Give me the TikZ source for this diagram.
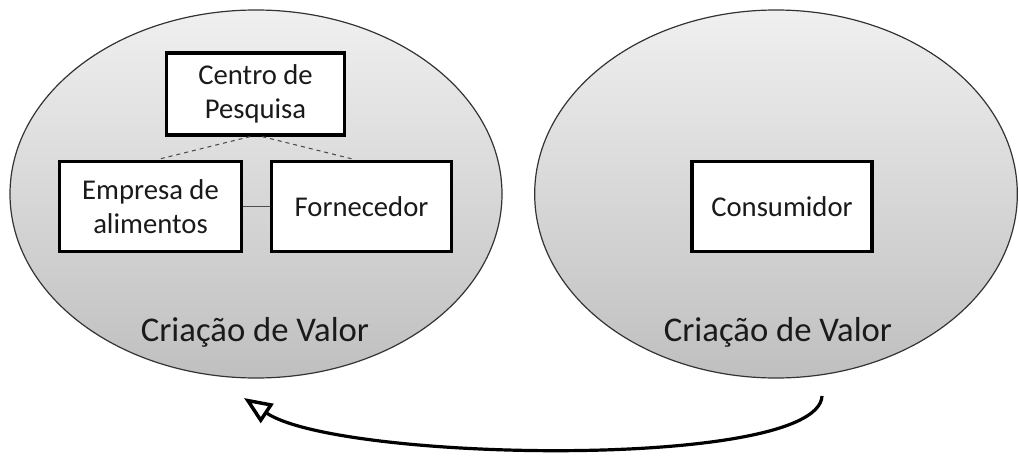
\documentclass[tikz,border=0pt]{standalone}
\usepackage{fontspec}
\setmainfont{Carlito}
\usetikzlibrary{shapes.geometric,arrows.meta,calc}
\definecolor{txt}{HTML}{1A1A1A}
\tikzset{
  oval/.style={ellipse, draw=black!80, line width=0.9pt, top color=black!6, bottom color=black!25, inner sep=0pt},
  box/.style={draw=black, line width=2.4pt, fill=white, align=center, inner sep=0pt, font=\fontsize{21.5}{25.5}\selectfont, text=txt},
  lbl/.style={font=\fontsize{26}{30}\selectfont, text=txt},
  link/.style={line width=0.8pt, black!70},
  flow/.style={line width=2.4pt, -{Triangle[open, length=21pt, width=17pt, line width=2.6pt]}}
}
\begin{document}
\begin{tikzpicture}[x=0.75pt,y=-0.75pt]
\useasboundingbox (0,0) rectangle (1019,456);
\node[oval, minimum width=369pt, minimum height=276pt] (L) at (256,194) {};
\node[oval, minimum width=362pt, minimum height=276pt] (R) at (776,194) {};
\node[box, minimum width=134pt, minimum height=61.5pt] (cp) at (255.5,94) {Centro de\\Pesquisa};
\node[box, minimum width=137pt, minimum height=68pt] (emp) at (150.5,206.5) {Empresa de\\alimentos};
\node[box, minimum width=135.5pt, minimum height=68pt] (forn) at (361.5,206.5) {Fornecedor};
\node[box, minimum width=135pt, minimum height=68pt] (cons) at (782,206.5) {Consumidor};
\node[lbl] (vl) at (255,332) {Criação de Valor};
\node[lbl] (vr) at (778,332) {Criação de Valor};
\draw[link, dashed] ([xshift=-4pt]cp.south) -- ([xshift=5pt]emp.north);
\draw[link, dashed] ([xshift=5pt]cp.south) -- ([xshift=-5pt]forn.north);
\draw[link] (emp.east) -- (forn.west);
\coordinate (s) at (822,396);
\coordinate (e) at (244,398);
\draw[flow] (s) .. controls (818,470) and (340,462) .. (e);
\end{tikzpicture}
\end{document}
